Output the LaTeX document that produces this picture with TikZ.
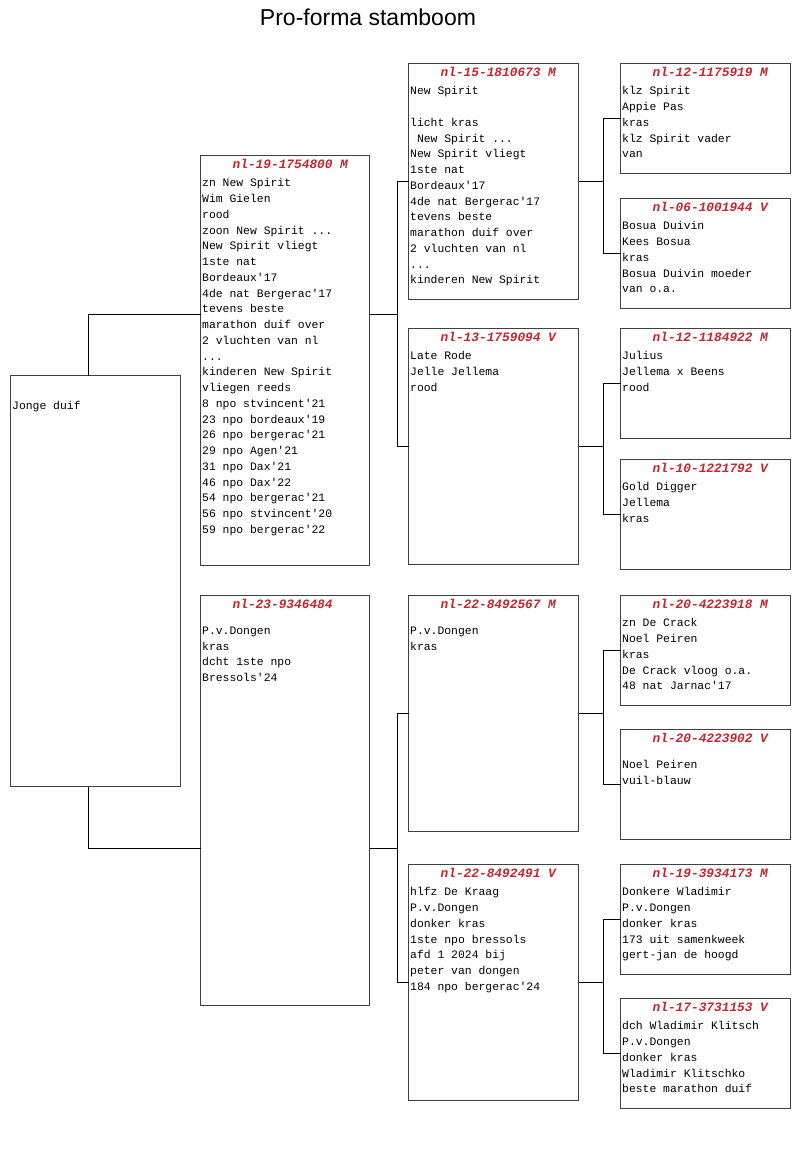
\documentclass[tikz,border=0pt]{standalone}
\usepackage{fontspec}
\setmonofont{Liberation Mono}
\newfontfamily\titelfont{Liberation Sans}
\usepackage{xcolor}
\usepackage{tikz}
\usetikzlibrary{positioning,calc}
\definecolor{kopkleur}{RGB}{196,38,48}

\begin{document}
\begin{tikzpicture}[
    x=1pt, y=1pt,
    kaart/.style={rectangle, draw=black!75, line width=1pt, fill=white, anchor=north west, minimum width=170pt, inner sep=0pt, outer sep=0pt},
    ouder/.style={kaart, minimum height=410pt},
    grootouder/.style={kaart, minimum height=236pt},
    overgrootouder/.style={kaart, minimum height=110pt},
    kop/.style={anchor=west, inner sep=0pt, text=kopkleur, font=\fontsize{12.8}{14}\selectfont\ttfamily\bfseries\itshape},
    tekst/.style={inner sep=0pt, align=left, font=\fontsize{11.4}{15.75}\selectfont\ttfamily, execute at begin node=\strut},
    lijn/.style={draw=black, line width=1pt},
]
\useasboundingbox (0,0) rectangle (800,-1149);

\node[font=\titelfont\fontsize{23}{27}\selectfont] (titel) at (368,-17) {Pro-forma stamboom};

\node[kaart, minimum height=411pt] (jong) at (10.5,-375.5) {};
\node[tekst, below right=23pt and 1.5pt of jong.north west] (jong-tekst) {Jonge duif};

\node[ouder, minimum width=169pt] (v) at (200.5,-155.5) {};
\node[kop] (v-kop) at ([shift={(32pt,-8pt)}]v.north west) {nl-19-1754800 M};
\node[tekst, below right=23pt and 1.5pt of v.north west] (v-tekst) {zn New Spirit\\Wim Gielen\\rood\\zoon New Spirit ...\\New Spirit vliegt\\1ste nat\\Bordeaux'17\\4de nat Bergerac'17\\tevens beste\\marathon duif over\\2 vluchten van nl\\...\\kinderen New Spirit\\vliegen reeds\\8 npo stvincent'21\\23 npo bordeaux'19\\26 npo bergerac'21\\29 npo Agen'21\\31 npo Dax'21\\46 npo Dax'22\\54 npo bergerac'21\\56 npo stvincent'20\\59 npo bergerac'22};

\node[ouder, minimum width=169pt] (m) at (200.5,-595.5) {};
\node[kop] (m-kop) at ([shift={(32pt,-8pt)}]m.north west) {nl-23-9346484};
\node[tekst, below right=23pt and 1.5pt of m.north west] (m-tekst) {\mbox{}\\P.v.Dongen\\kras\\dcht 1ste npo\\Bressols'24};

\node[grootouder] (vv) at (408.5,-63.5) {};
\node[kop] (vv-kop) at ([shift={(32pt,-8pt)}]vv.north west) {nl-15-1810673 M};
\node[tekst, below right=23pt and 1.5pt of vv.north west] (vv-tekst) {New Spirit\\\mbox{}\\licht kras\\\mbox{}\ New Spirit ...\\New Spirit vliegt\\1ste nat\\Bordeaux'17\\4de nat Bergerac'17\\tevens beste\\marathon duif over\\2 vluchten van nl\\...\\kinderen New Spirit};

\node[grootouder] (vm) at (408.5,-328.5) {};
\node[kop] (vm-kop) at ([shift={(32pt,-8pt)}]vm.north west) {nl-13-1759094 V};
\node[tekst, below right=23pt and 1.5pt of vm.north west] (vm-tekst) {Late Rode\\Jelle Jellema\\rood};

\node[grootouder] (mv) at (408.5,-595.5) {};
\node[kop] (mv-kop) at ([shift={(32pt,-8pt)}]mv.north west) {nl-22-8492567 M};
\node[tekst, below right=23pt and 1.5pt of mv.north west] (mv-tekst) {\mbox{}\\P.v.Dongen\\kras};

\node[grootouder] (mm) at (408.5,-864.5) {};
\node[kop] (mm-kop) at ([shift={(32pt,-8pt)}]mm.north west) {nl-22-8492491 V};
\node[tekst, below right=23pt and 1.5pt of mm.north west] (mm-tekst) {hlfz De Kraag\\P.v.Dongen\\donker kras\\1ste npo bressols\\afd 1 2024 bij\\peter van dongen\\184 npo bergerac'24};

\node[overgrootouder] (vvv) at (620.5,-63.5) {};
\node[kop] (vvv-kop) at ([shift={(32pt,-8pt)}]vvv.north west) {nl-12-1175919 M};
\node[tekst, below right=23pt and 1.5pt of vvv.north west] (vvv-tekst) {klz Spirit\\Appie Pas\\kras\\klz Spirit vader\\van};

\node[overgrootouder] (vvm) at (620.5,-198.5) {};
\node[kop] (vvm-kop) at ([shift={(32pt,-8pt)}]vvm.north west) {nl-06-1001944 V};
\node[tekst, below right=23pt and 1.5pt of vvm.north west] (vvm-tekst) {Bosua Duivin\\Kees Bosua\\kras\\Bosua Duivin moeder\\van o.a.};

\node[overgrootouder] (vmv) at (620.5,-328.5) {};
\node[kop] (vmv-kop) at ([shift={(32pt,-8pt)}]vmv.north west) {nl-12-1184922 M};
\node[tekst, below right=23pt and 1.5pt of vmv.north west] (vmv-tekst) {Julius\\Jellema x Beens\\rood};

\node[overgrootouder] (vmm) at (620.5,-459.5) {};
\node[kop] (vmm-kop) at ([shift={(32pt,-8pt)}]vmm.north west) {nl-10-1221792 V};
\node[tekst, below right=23pt and 1.5pt of vmm.north west] (vmm-tekst) {Gold Digger\\Jellema\\kras};

\node[overgrootouder] (mvv) at (620.5,-595.5) {};
\node[kop] (mvv-kop) at ([shift={(32pt,-8pt)}]mvv.north west) {nl-20-4223918 M};
\node[tekst, below right=23pt and 1.5pt of mvv.north west] (mvv-tekst) {zn De Crack\\Noel Peiren\\kras\\De Crack vloog o.a.\\48 nat Jarnac'17};

\node[overgrootouder] (mvm) at (620.5,-729.5) {};
\node[kop] (mvm-kop) at ([shift={(32pt,-8pt)}]mvm.north west) {nl-20-4223902 V};
\node[tekst, below right=23pt and 1.5pt of mvm.north west] (mvm-tekst) {\mbox{}\\Noel Peiren\\vuil-blauw};

\node[overgrootouder] (mmv) at (620.5,-864.5) {};
\node[kop] (mmv-kop) at ([shift={(32pt,-8pt)}]mmv.north west) {nl-19-3934173 M};
\node[tekst, below right=23pt and 1.5pt of mmv.north west] (mmv-tekst) {Donkere Wladimir\\P.v.Dongen\\donker kras\\173 uit samenkweek\\gert-jan de hoogd};

\node[overgrootouder] (mmm) at (620.5,-998.5) {};
\node[kop] (mmm-kop) at ([shift={(32pt,-8pt)}]mmm.north west) {nl-17-3731153 V};
\node[tekst, below right=23pt and 1.5pt of mmm.north west] (mmm-tekst) {dch Wladimir Klitsch\\P.v.Dongen\\donker kras\\Wladimir Klitschko\\beste marathon duif};

\coordinate (k-v) at ($(vv.west)!0.5!(vm.west) + (-11pt,-0.5pt)$);
\coordinate (k-m) at ($(mv.west)!0.5!(mm.west) + (-11pt,0)$);
\coordinate (k-vv) at ([xshift=25pt]vv.east);
\coordinate (k-vm) at ([xshift=25pt]vm.east);
\coordinate (k-mv) at ([xshift=25pt]mv.east);
\coordinate (k-mm) at ([xshift=25pt]mm.east);

\draw[lijn] ([xshift=-7pt]jong.north) |- (k-v -| v.west);
\draw[lijn] ([xshift=-7pt]jong.south) |- (k-m -| m.west);
\draw[lijn] (v.east |- k-v) -- (k-v);
\draw[lijn] (m.east |- k-m) -- (k-m);
\draw[lijn] (vv.west) -| (k-v) |- (vm.west);
\draw[lijn] (mv.west) -| (k-m) |- (mm.west);
\draw[lijn] (vv.east) -- (k-vv);
\draw[lijn] (vm.east) -- (k-vm);
\draw[lijn] (mv.east) -- (k-mv);
\draw[lijn] (mm.east) -- (k-mm);
\draw[lijn] (vvv.west) -| (k-vv) |- (vvm.west);
\draw[lijn] (vmv.west) -| (k-vm) |- (vmm.west);
\draw[lijn] (mvv.west) -| (k-mv) |- (mvm.west);
\draw[lijn] (mmv.west) -| (k-mm) |- (mmm.west);
\end{tikzpicture}
\end{document}
